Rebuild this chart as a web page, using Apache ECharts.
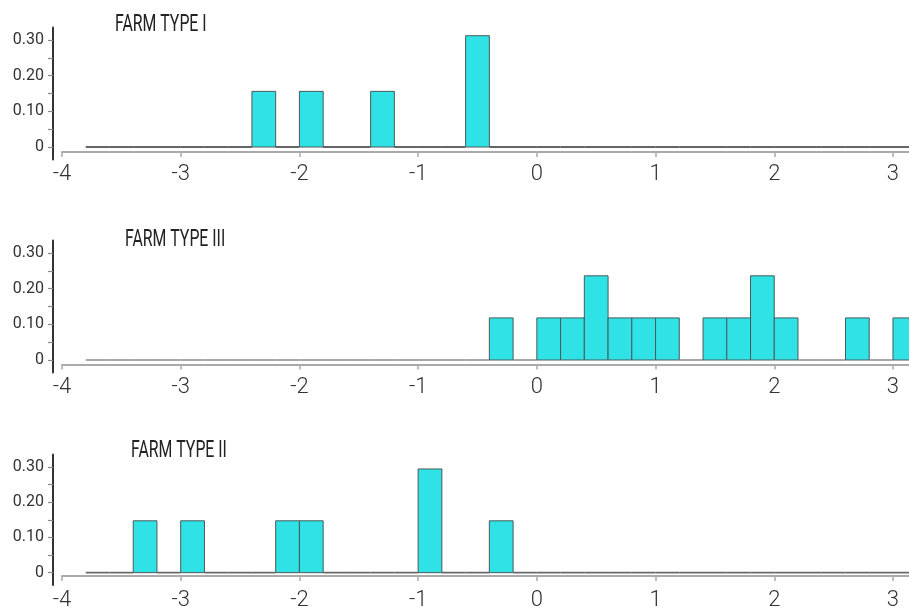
<!DOCTYPE html>
<html>
<head>
<meta charset="utf-8">
<script src="https://cdn.jsdelivr.net/npm/echarts@6/dist/echarts.min.js"></script>
<style>
  html, body { margin: 0; padding: 0; background: #fff; }
  #chart { width: 909px; height: 611px; }
</style>
</head>
<body>
<div id="chart"></div>
<script>
// Histogram bins: width 0.2, first bin starts at -3.8 (35 bins up to 3.2)
const binStart = -3.8;
const binWidth = 0.2;

// Relative frequency per bin for each farm type
const typeI = [
  0, 0, 0, 0, 0, 0, 0, 0.156, 0, 0.156,
  0, 0, 0.156, 0, 0, 0, 0.312, 0, 0, 0,
  0, 0, 0, 0, 0, 0, 0, 0, 0, 0,
  0, 0, 0, 0, 0
];
const typeIII = [
  0, 0, 0, 0, 0, 0, 0, 0, 0, 0,
  0, 0, 0, 0, 0, 0, 0, 0.118, 0, 0.118,
  0.118, 0.236, 0.118, 0.118, 0.118, 0, 0.118, 0.118, 0.236, 0.118,
  0, 0, 0.118, 0, 0.118
];
const typeII = [
  0, 0, 0.147, 0, 0.147, 0, 0, 0, 0.147, 0.147,
  0, 0, 0, 0, 0.294, 0, 0, 0.147, 0, 0,
  0, 0, 0, 0, 0, 0, 0, 0, 0, 0,
  0, 0, 0, 0, 0
];

const panelTitles = ['FARM TYPE I', 'FARM TYPE III', 'FARM TYPE II'];
const xTicks = [-4, -3, -2, -1, 0, 1, 2, 3];
const yTicks = [0, 0.05, 0.10, 0.15, 0.20, 0.25, 0.30];
const yLabels = [0, 0.10, 0.20, 0.30];

const panels = [
  { values: typeI,   top: 27.5,  height: 132, axisOffset: -7.5, labelMargin: 11, base: '#333',    titleX: 115, titleY: 25 },
  { values: typeIII, top: 240.5, height: 132, axisOffset: -8,   labelMargin: 12, base: '#8a8a8a', titleX: 125, titleY: 240 },
  { values: typeII,  top: 454.5, height: 133, axisOffset: -9,   labelMargin: 13, base: '#6a6a6a', titleX: 131, titleY: 451 }
];

function binData(values) {
  return values.map((v, i) => {
    const x0 = +(binStart + i * binWidth).toFixed(2);
    return [x0, +(x0 + binWidth).toFixed(2), v];
  });
}

const grid = [], xAxis = [], yAxis = [], series = [], graphic = [];

panels.forEach((p, k) => {
  grid.push({ left: 62, right: 0, top: p.top, height: p.height, containLabel: false });

  xAxis.push({
    type: 'value', gridIndex: k, min: -4, max: 3.135,
    offset: p.axisOffset,
    axisLine: { onZero: false, lineStyle: { color: '#aaaaaa', width: 2 } },
    axisTick: { show: true, length: 5, lineStyle: { color: '#aaaaaa', width: 1.5 }, customValues: xTicks },
    axisLabel: {
      customValues: xTicks, margin: p.labelMargin,
      fontFamily: 'Roboto', fontWeight: 300, fontSize: 22, color: '#333',
      formatter: v => String(v)
    },
    splitLine: { show: false }
  });

  yAxis.push({
    type: 'value', gridIndex: k, min: -0.035, max: 0.335,
    offset: 9,
    axisLine: { show: true, onZero: false, lineStyle: { color: '#333', width: 2 } },
    axisTick: { show: true, length: 5, lineStyle: { color: '#888', width: 1.2 }, customValues: yTicks },
    axisLabel: {
      customValues: yLabels, margin: 9,
      fontFamily: 'Roboto', fontSize: 16, color: '#333',
      formatter: v => (v === 0 ? '0' : v.toFixed(2))
    },
    splitLine: { show: false }
  });

  series.push({
    type: 'custom', xAxisIndex: k, yAxisIndex: k, clip: true,
    data: binData(p.values),
    encode: { x: [0, 1], y: 2 },
    renderItem: (params, api) => {
      const start = api.coord([api.value(0), api.value(2)]);
      const end = api.coord([api.value(1), 0]);
      const h = api.value(2);
      return {
        type: 'rect',
        shape: { x: start[0], y: start[1], width: end[0] - start[0], height: end[1] - start[1] },
        style: h > 0
          ? { fill: '#2ee2e6', stroke: '#4a5a5a', lineWidth: 1 }
          : { fill: 'none', stroke: p.base, lineWidth: 1.6 }
      };
    }
  });

  // Condensed panel heading
  graphic.push({
    type: 'text', x: p.titleX, y: p.titleY, scaleX: 0.66, scaleY: 1,
    style: {
      x: 0, y: 0, text: panelTitles[k], align: 'left', verticalAlign: 'middle',
      fontFamily: 'Roboto', fontSize: 24, fill: '#222'
    }
  });
});

const chart = echarts.init(document.getElementById('chart'));
chart.setOption({ animation: false, grid, xAxis, yAxis, series, graphic });
</script>
</body>
</html>
